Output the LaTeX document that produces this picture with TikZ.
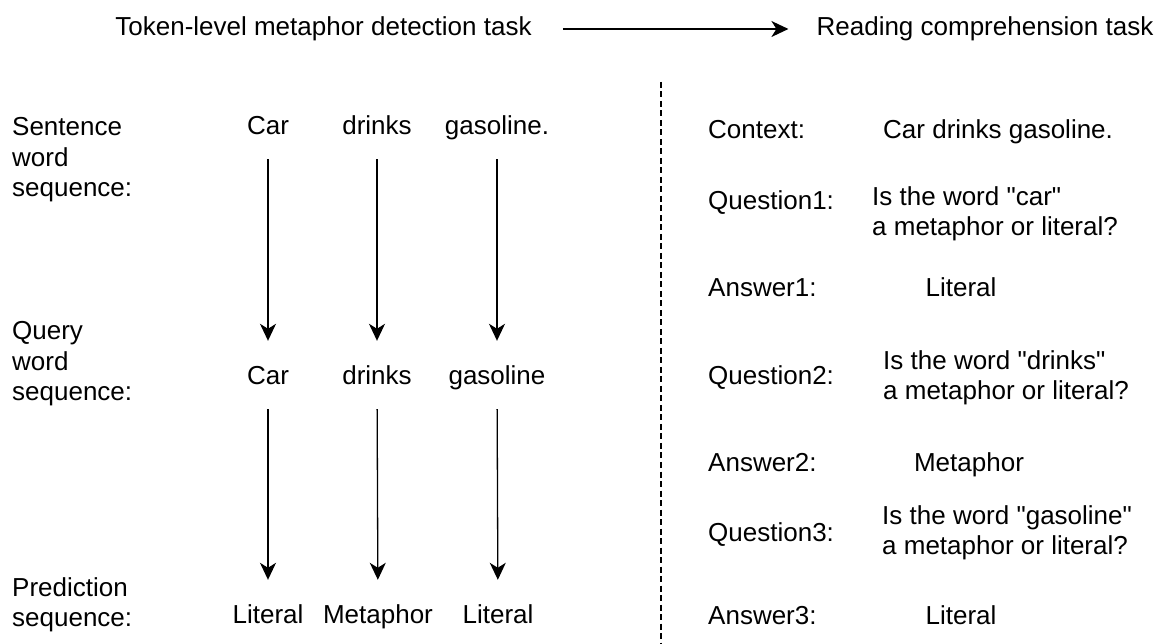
\documentclass[tikz,border=0pt]{standalone}
\usepackage{fontspec}
\setmainfont{Liberation Sans}[Ligatures=TeXOff]
\usetikzlibrary{arrows.meta}
\tikzset{
  txt/.style={font=\fontsize{26}{30.5}\selectfont, inner sep=0pt},
  oneline/.style={txt, text height=19pt, text depth=6pt},
  lbl/.style={txt, anchor=west, align=left},
  word/.style={txt, text height=19pt, text depth=0pt, inner ysep=24.5pt},
  flow/.style={line width=1.3pt, -{Stealth[length=17pt,width=16pt,inset=5pt]}},
  sep/.style={line width=1.3pt, dash pattern=on 6pt off 3.5pt},
}

\begin{document}
\begin{tikzpicture}[x=1pt, y=-1pt]
	%%%%% START %%%%%
	\useasboundingbox (0,0) rectangle (1163,644);
	
	% task headings
	\node[oneline] (tasktok) at (323.5,29) {Token-level metaphor detection task};
	\node[oneline] (taskrc) at (985,29) {Reading comprehension task};
	\draw[flow, shorten <=31pt, shorten >=28pt] (tasktok.east) -- (taskrc.west);
	
	% left: sequence labels
	\node[lbl] (sentlbl) at (12,160) {Sentence\\word\\sequence:};
	\node[lbl] (querylbl) at (12,364) {Query\\word\\sequence:};
	\node[lbl] (predlbl) at (12,605) {Prediction\\sequence:};
	
	% left: words
	\node[word] (sent1) at (268,125) {Car};
	\node[word] (sent2) at (377,125) {drinks};
	\node[word] (sent3) at (497,125) {gasoline.};
	
	\node[word] (query1) at (268,375) {Car};
	\node[word] (query2) at (377,375) {drinks};
	\node[word] (query3) at (497,375) {gasoline};
	
	\node[word] (pred1) at (268,614) {Literal};
	\node[word] (pred2) at (378,614) {Metaphor};
	\node[word] (pred3) at (498,614) {Literal};
	
	\foreach \i in {1,2,3} {
		\draw[flow] (sent\i) -- (query\i);
		\draw[flow] (query\i) -- (pred\i);
	}
	
	% divider
	\draw[sep] (661,82) -- (661,644);
	
	% right: reading comprehension
	\node[oneline, anchor=west] (ctxlbl) at (708,132) {Context:};
	\node[oneline, anchor=west] (ctx) at (883,132) {Car drinks gasoline.};
	
	\node[oneline, anchor=west] (ques1lbl) at (708,203) {Question1:};
	\node[lbl] (ques1) at (872,214) {Is the word "car"\\a metaphor or literal?};
	\node[oneline, anchor=west] (ans1lbl) at (708,290) {Answer1:};
	\node[oneline] (ans1) at (961,290) {Literal};
	
	\node[oneline, anchor=west] (ques2lbl) at (708,378) {Question2:};
	\node[lbl] (ques2) at (883,378) {Is the word "drinks"\\a metaphor or literal?};
	\node[oneline, anchor=west] (ans2lbl) at (708,465) {Answer2:};
	\node[oneline] (ans2) at (969,465) {Metaphor};
	
	\node[oneline, anchor=west] (ques3lbl) at (708,535) {Question3:};
	\node[lbl] (ques3) at (882,533) {Is the word "gasoline"\\a metaphor or literal?};
	\node[oneline, anchor=west] (ans3lbl) at (708,618) {Answer3:};
	\node[oneline] (ans3) at (961,618) {Literal};
	%%%%% END %%%%%
\end{tikzpicture}
\end{document}
